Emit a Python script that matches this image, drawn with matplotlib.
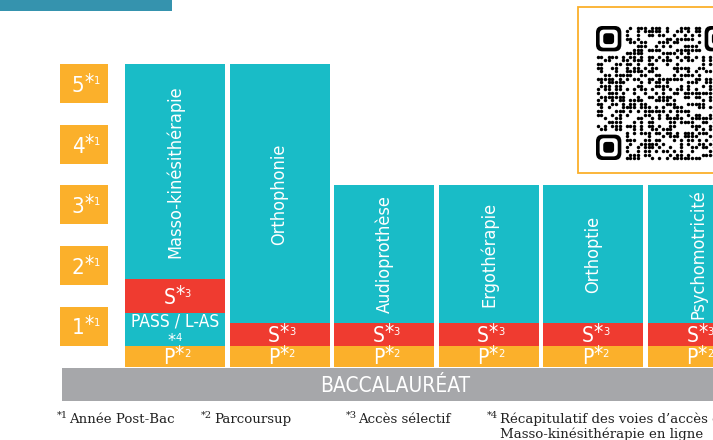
import matplotlib
matplotlib.use("Agg")
import matplotlib.pyplot as plt
from matplotlib.patches import Rectangle, FancyBboxPatch
from matplotlib.transforms import IdentityTransform

# ---------------- data ----------------
programs = ["Masso-kinésithérapie", "Orthophonie", "Audioprothèse",
            "Ergothérapie", "Orthoptie", "Psychomotricité"]
duration_years = [5, 5, 3, 3, 3, 3]
parcoursup_seg = [0.355, 0.355, 0.355, 0.355, 0.355, 0.355]
pass_las_seg = [0.54, 0.0, 0.0, 0.0, 0.0, 0.0]
selective_seg = [0.56, 0.37, 0.37, 0.37, 0.37, 0.37]
year_labels = ["1", "2", "3", "4", "5"]
footnote_marks = ["1", "2", "3", "4"]
footnote_texts = ["Année Post-Bac", "Parcoursup", "Accès sélectif",
                  "Récapitulatif des voies d’accès en\nMasso-kinésithérapie en ligne"]
base_label = "BACCALAURÉAT"

# ---------------- style ----------------
TEAL = "#19bcc7"
RED = "#ef3b30"
ORANGE = "#fbb02b"
GRAY = "#a6a7aa"
TOPBAR = "#3593ae"
COND = ["DejaVu Sans Condensed", "DejaVu Sans"]
SERIF = ["DejaVu Serif Condensed", "DejaVu Serif"]

W, H = 713, 440
fig = plt.figure(figsize=(W / 100, H / 100), dpi=100)
fig.patch.set_facecolor("white")
renderer = fig.canvas.get_renderer()

# main axes: x in bar units, y in years
PITCH = 104.6
YPX = 60.5
ax = fig.add_axes([0, 0, 1, 1])
ax.set_xlim(-125 / PITCH, (W - 125) / PITCH)
ax.set_ylim(-(H - 367) / YPX, 367 / YPX)
ax.axis("off")
ax.patch.set_alpha(0)

BW = 100 / PITCH


def rich(xd, yd, parts, color="white", family=COND, stretch="condensed",
         ha="center", dx=0.0, axis=None):
    """Lay out text pieces left to right; yd is the baseline (data coords)."""
    axis = axis or ax
    X, Y = axis.transData.transform((xd, yd))
    items = []
    for s, size, rise in parts:
        t = fig.text(0, 0, s, fontsize=size, family=family, fontstretch=stretch,
                     color=color, va="baseline", ha="left",
                     transform=IdentityTransform())
        w = t.get_window_extent(renderer).width
        items.append((t, rise, w))
    total = sum(w for _, _, w in items)
    x0 = X - total / 2 + dx if ha == "center" else X + dx
    for t, rise, w in items:
        t.set_position((x0, Y + rise))
        x0 += w


def cap_baseline(yc, size):
    """baseline (data) so that caps of given size are centred at yc."""
    cap_px = 0.73 * size * 100 / 72
    return yc - (cap_px / 2) / YPX


# gray baccalaureat band
ax.add_patch(Rectangle((-63 / PITCH, -401 / YPX + 367 / YPX), (W - 62) / PITCH + 1,
                       (401 - 368) / YPX, facecolor=GRAY, edgecolor="none"))
rich((395 - 125) / PITCH, cap_baseline(-(384.5 - 367) / YPX, 15), [(base_label, 15, 0)])

# year boxes
BOX_H = 39 / YPX
for k, lab in enumerate(year_labels, start=1):
    ax.bar(-65 / PITCH, -BOX_H, bottom=k, width=48 / PITCH, align="edge",
           color=ORANGE, edgecolor="none")
    yc = k - BOX_H / 2
    rich(-41 / PITCH, cap_baseline(yc, 16),
         [(lab, 16, 0), ("*", 15, 3), ("1", 8, 8)], dx=2)

# stacked bars
xs = list(range(len(programs)))
bottom = [0.0] * len(programs)
ax.bar(xs, parcoursup_seg, bottom=bottom, width=BW, align="edge", color=ORANGE, edgecolor="none")
b1 = [b + p for b, p in zip(bottom, parcoursup_seg)]
ax.bar(xs, pass_las_seg, bottom=b1, width=BW, align="edge", color=TEAL, edgecolor="none")
b2 = [b + p for b, p in zip(b1, pass_las_seg)]
ax.bar(xs, selective_seg, bottom=b2, width=BW, align="edge", color=RED, edgecolor="none")
b3 = [b + s for b, s in zip(b2, selective_seg)]
rest = [d - b for d, b in zip(duration_years, b3)]
ax.bar(xs, rest, bottom=b3, width=BW, align="edge", color=TEAL, edgecolor="none")

for i, name in enumerate(programs):
    xc = i + BW / 2
    # P segment
    rich(xc, cap_baseline(parcoursup_seg[i] / 2, 15),
         [("P", 15, 0), ("*", 15, 3), ("2", 8, 7)], dx=2)
    # PASS / L-AS
    if pass_las_seg[i] > 0:
        yc = b1[i] + pass_las_seg[i] / 2
        rich(xc, yc + 0.04, [("PASS / L-AS", 12.5, 0)])
        rich(xc, yc - 0.19, [("*", 13, -5), ("4", 8, 0)])
    # S segment
    rich(xc, cap_baseline(b2[i] + selective_seg[i] / 2, 15),
         [("S", 15, 0), ("*", 15, 3), ("3", 8, 7)], dx=2)
    # programme name
    yc = (b3[i] + duration_years[i]) / 2
    ax.text(xc, yc, name, rotation=90, ha="center", va="center", color="white",
            fontsize=13, family=COND, fontstretch="condensed")

# ---------------- pixel-space decorations ----------------
axp = fig.add_axes([0, 0, 1, 1])
axp.set_xlim(0, W)
axp.set_ylim(H, 0)
axp.axis("off")
axp.patch.set_alpha(0)

axp.add_patch(Rectangle((0, 0), 172, 11, facecolor=TOPBAR, edgecolor="none"))

# QR code panel (decorative)
axp.add_patch(Rectangle((578, 7), 200, 166, facecolor="white", edgecolor=ORANGE, lw=1.3))
n = 37
m = 134 / n
qx, qy = 596, 26
sx, sy = [], []
for i in range(n):
    for j in range(n):
        if (i < 8 and j < 8) or (i < 8 and j >= n - 8) or (i >= n - 8 and j < 8):
            continue
        h = ((i * 7919 + j * 104729 + i * j * 31) ^ (i * j * 131 + j * 17)) % 23
        if h < 12:
            sx.append(qx + (j + 0.5) * m)
            sy.append(qy + (i + 0.5) * m)
axp.scatter(sx, sy, marker="o", s=(m * 0.72 * 0.95) ** 2, color="black", linewidths=0)
for (fi, fj) in [(0, 0), (0, n - 7), (n - 7, 0)]:
    ox, oy = qx + fj * m, qy + fi * m
    axp.add_patch(FancyBboxPatch((ox, oy), 7 * m, 7 * m,
                                 boxstyle=f"round,pad=0,rounding_size={1.8 * m}",
                                 facecolor="black", edgecolor="none"))
    axp.add_patch(FancyBboxPatch((ox + m, oy + m), 5 * m, 5 * m,
                                 boxstyle=f"round,pad=0,rounding_size={1.2 * m}",
                                 facecolor="white", edgecolor="none"))
    axp.add_patch(FancyBboxPatch((ox + 2 * m, oy + 2 * m), 3 * m, 3 * m,
                                 boxstyle=f"round,pad=0,rounding_size={0.9 * m}",
                                 facecolor="black", edgecolor="none"))

# footnotes
fn_mark_x = [57, 201, 346, 487]
fn_text_x = [69, 214, 358, 500]
for mk, txt, mx, tx in zip(footnote_marks, footnote_texts, fn_mark_x, fn_text_x):
    axp.text(mx, 418, "*" + mk, fontsize=7, family=SERIF, color="#222222",
             va="baseline", ha="left")
    for li, line in enumerate(txt.split("\n")):
        axp.text(tx, 423 + li * 15, line, fontsize=9.6, family=SERIF, color="#222222",
                 va="baseline", ha="left")

fig.savefig("out.png", dpi=100)
